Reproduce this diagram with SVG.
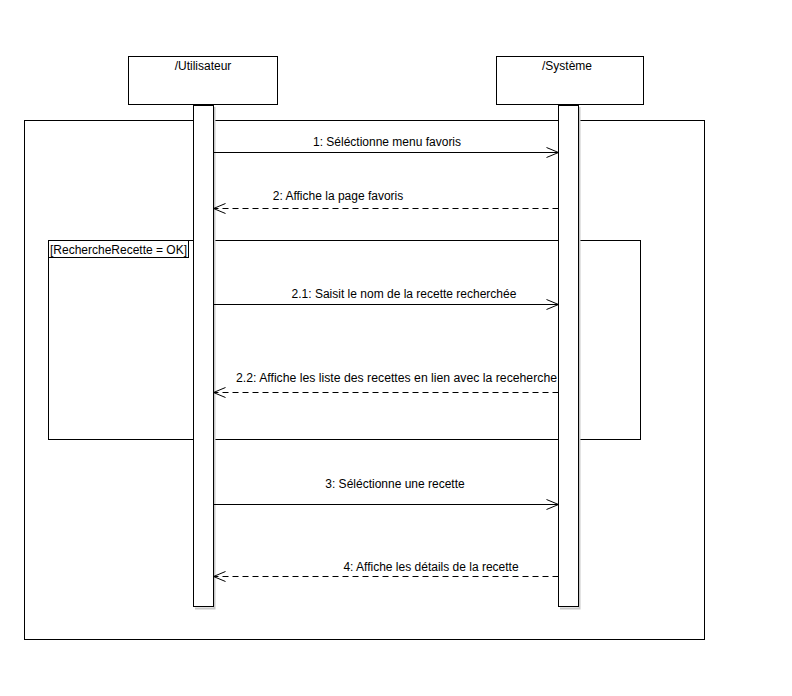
<svg xmlns="http://www.w3.org/2000/svg" width="792" height="696" viewBox="0 0 792 696">
<style>
.t{font-family:"Liberation Sans",Arial,sans-serif;font-size:12px;fill:#000}
.box{fill:#fff;stroke:#000;stroke-width:1}
.ln{fill:none;stroke:#000;stroke-width:1}
.dash{stroke-dasharray:6,4}
.sh{fill:none;stroke:#c8c8c8;stroke-width:2}
</style>
<defs>
<marker id="open" markerWidth="14" markerHeight="12" refX="13" refY="6" orient="auto" markerUnits="userSpaceOnUse">
<path d="M1,1 L13,6 L1,11" fill="none" stroke="#000" stroke-width="1"/>
</marker>
</defs>
<rect width="792" height="696" fill="#fff"/>
<g id="frame">
<rect x="24.5" y="120.5" width="680" height="519" class="box"/>
</g>
<g id="fragment">
<rect x="48.5" y="240.5" width="592" height="199" class="box"/>
<rect x="48.5" y="240.5" width="140" height="17" class="box"/>
<text x="50" y="254" class="t" textLength="137" lengthAdjust="spacingAndGlyphs">[RechercheRecette = OK]</text>
</g>
<g id="utilisateur">
<rect x="128.5" y="56.5" width="149" height="48" class="box"/>
<text x="203" y="70" class="t" text-anchor="middle">/Utilisateur</text>
<path d="M214.5,107 V608.5 H195" class="sh"/>
<rect x="193.5" y="105.5" width="20" height="501" class="box"/>
</g>
<g id="systeme">
<rect x="496.5" y="56.5" width="147" height="48" class="box"/>
<text x="567" y="70" class="t" text-anchor="middle">/Système</text>
<path d="M579.5,107 V608.5 H560" class="sh"/>
<rect x="558.5" y="105.5" width="20" height="501" class="box"/>
</g>
<g id="connectors">
<line x1="213.5" y1="152.5" x2="558.5" y2="152.5" class="ln" marker-end="url(#open)"/>
<text x="387" y="146" class="t" text-anchor="middle">1: Séléctionne menu favoris</text>
<line x1="558.5" y1="208.5" x2="213.5" y2="208.5" class="ln dash" marker-end="url(#open)"/>
<text x="338" y="200" class="t" text-anchor="middle">2: Affiche la page favoris</text>
<line x1="213.5" y1="304.5" x2="558.5" y2="304.5" class="ln" marker-end="url(#open)"/>
<text x="404" y="298" class="t" text-anchor="middle">2.1: Saisit le nom de la recette recherchée</text>
<line x1="558.5" y1="392.5" x2="213.5" y2="392.5" class="ln dash" marker-end="url(#open)"/>
<text x="236" y="382" class="t" textLength="321" lengthAdjust="spacingAndGlyphs">2.2: Affiche les liste des recettes en lien avec la receherche</text>
<line x1="213.5" y1="504.5" x2="558.5" y2="504.5" class="ln" marker-end="url(#open)"/>
<text x="395" y="488" class="t" text-anchor="middle">3: Séléctionne une recette</text>
<line x1="558.5" y1="576.5" x2="213.5" y2="576.5" class="ln dash" marker-end="url(#open)"/>
<text x="431" y="571" class="t" text-anchor="middle">4: Affiche les détails de la recette</text>
</g>
</svg>
